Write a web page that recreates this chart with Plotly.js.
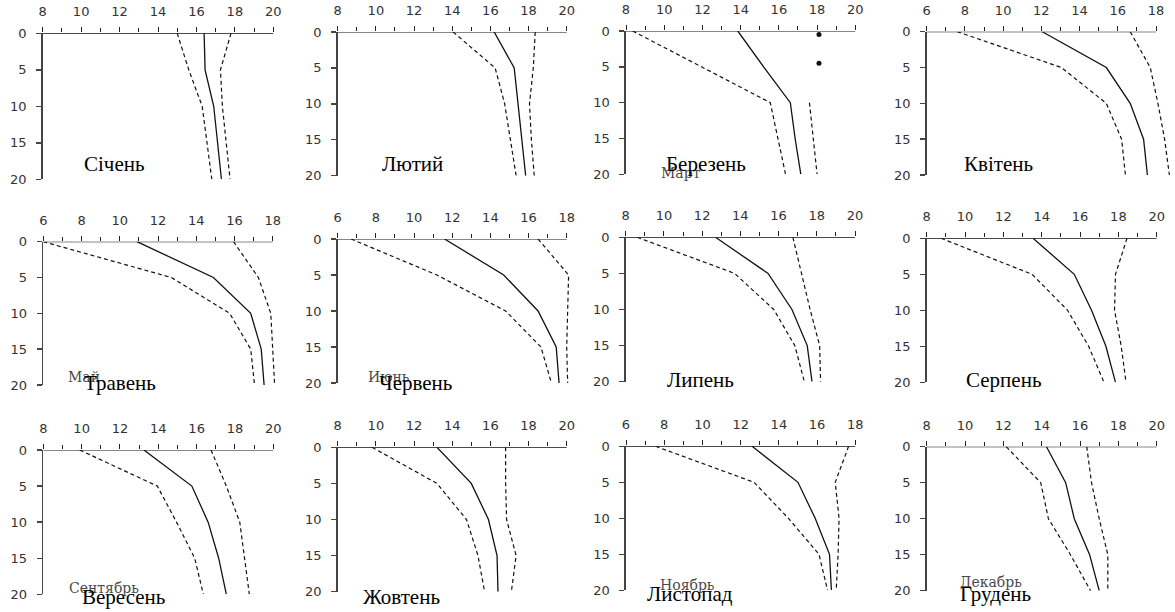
<!DOCTYPE html>
<html>
<head>
<meta charset="utf-8">
<script src="https://cdn.plot.ly/plotly-3.0.1.min.js"></script>
<style>html,body{margin:0;padding:0;background:#fff;}#chart{width:1175px;height:612px;}</style>
</head>
<body>
<div id="chart"></div>
<script>
// ---- data ----
const depths = [0, 5, 10, 15, 20];
const months = ['Січень','Лютий','Березень','Квітень','Травень','Червень','Липень','Серпень','Вересень','Жовтень','Листопад','Грудень'];
const monthsRu = ['', '', 'Март', '', 'Май', 'Июнь', '', '', 'Сентябрь', '', 'Ноябрь', 'Декабрь'];
const xTickLow  = [8, 8, 8, 6, 6, 6, 8, 8, 8, 8, 6, 8];
const xTickHigh = [20, 20, 20, 18, 18, 18, 20, 20, 20, 20, 18, 20];
const yTicks = [0, 5, 10, 15, 20];
const meanTemp = [
  [16.4, 16.45, 16.9, 17.1, 17.3],
  [16.2, 17.25, 17.45, 17.65, 17.85],
  [13.85, 15.2, 16.6, 16.85, 17.15],
  [12.05, 15.4, 16.65, 17.35, 17.55],
  [10.9, 14.9, 16.85, 17.4, 17.55],
  [11.6, 14.7, 16.5, 17.45, 17.6],
  [12.7, 15.45, 16.7, 17.5, 17.75],
  [13.55, 15.7, 16.6, 17.35, 17.85],
  [13.25, 15.75, 16.6, 17.15, 17.55],
  [13.2, 15.0, 15.9, 16.35, 16.4],
  [12.6, 15.0, 15.9, 16.65, 16.75],
  [14.25, 15.25, 15.7, 16.5, 17.0]
];
const minTemp = [
  [15.0, 15.6, 16.3, 16.55, 16.8],
  [14.05, 16.25, 16.75, 17.05, 17.35],
  [8.35, 11.95, 15.55, 15.95, 16.35],
  [7.6, 13.05, 15.4, 16.2, 16.4],
  [6.0, 12.7, 15.75, 16.85, 17.05],
  [6.7, 11.2, 14.8, 16.65, 17.2],
  [8.6, 13.7, 15.75, 16.85, 17.35],
  [8.75, 13.5, 15.35, 16.45, 17.25],
  [9.9, 13.95, 14.95, 15.9, 16.35],
  [9.8, 13.2, 14.75, 15.35, 15.7],
  [7.55, 12.7, 14.5, 16.1, 16.55],
  [12.15, 13.95, 14.35, 15.5, 16.55]
];
const maxTemp = [
  [17.8, 17.25, 17.35, 17.55, 17.75],
  [18.35, 18.25, 18.05, 18.15, 18.3],
  [null, null, 17.6, 17.8, 18.0],
  [16.65, 17.7, 18.1, 18.45, 18.7],
  [15.95, 17.25, 17.9, 18.0, 18.1],
  [16.5, 18.1, 18.05, 18.0, 18.05],
  [16.75, 17.2, 17.65, 18.15, 18.2],
  [18.45, 17.85, 17.8, 18.15, 18.4],
  [16.75, 17.55, 18.25, 18.5, 18.75],
  [16.8, 16.8, 16.85, 17.35, 17.1],
  [17.65, 16.95, 17.15, 17.1, 17.0],
  [16.35, 16.6, 17.0, 17.45, 17.45]
];
// isolated max points for March (panel 3)
const marchDotTemp = [18.1, 18.1];
const marchDotDepth = [0.5, 4.5];

// ---- layout geometry (pixels) ----
const W = 1175, H = 612;
const panelLeft   = [42.7, 337.7, 626, 926.7, 43.3, 337.7, 625.7, 926.7, 43.3, 337.7, 626, 926.7];
const panelRight  = [273.3, 566.7, 855.3, 1156, 272.7, 566.7, 855, 1156.7, 273.3, 566.7, 855.3, 1156.7];
const panelTop    = [33.3, 32, 31, 31.7, 241.7, 239, 237.3, 238.3, 450, 447.3, 446.3, 446.7];
const panelBottom = [179.3, 175.7, 174.3, 175, 385, 383, 381.7, 382.3, 594.3, 591.7, 590.3, 590.7];
const labelX  = [114, 413, 706, 998, 120, 415, 700, 1003, 123, 401, 690, 995];
const labelY  = [164, 164, 164, 164, 383, 383, 380, 380, 597, 597, 594, 594];
const ruX = [0, 0, 681, 0, 84, 389, 0, 0, 104, 0, 687, 991];
const ruY = [0, 0, 173, 0, 377, 377, 0, 0, 588, 0, 585, 582];

const traces = [];
const layout = {
  width: W, height: H,
  margin: {l: 0, r: 0, t: 0, b: 0},
  paper_bgcolor: '#ffffff', plot_bgcolor: 'rgba(0,0,0,0)',
  showlegend: false,
  shapes: [], annotations: []
};
const tickFont = {family: 'DejaVu Sans, sans-serif', size: 13, color: '#333'};
const pad = 0.9;

for (let i = 0; i < 12; i++) {
  const n = i + 1;
  const sfx = n === 1 ? '' : String(n);
  const xr = 'x' + sfx, yr = 'y' + sfx;
  const lo = xTickLow[i], hi = xTickHigh[i];
  const ppu = (panelRight[i] - panelLeft[i]) / (hi - lo);
  const evens = [];
  for (let v = lo; v <= hi; v += 2) evens.push(v);
  layout['xaxis' + sfx] = {
    domain: [panelLeft[i] / W, (panelRight[i] + pad * ppu) / W],
    range: [lo, hi + pad], side: 'top', anchor: yr,
    showline: false, showgrid: false, zeroline: false,
    ticks: 'outside', ticklen: 5, tickwidth: 1, tickcolor: '#222',
    tickmode: 'array', tickvals: evens, ticktext: evens.map(String),
    minor: {dtick: 1, tick0: lo, ticks: 'outside', ticklen: 4, tickwidth: 1, tickcolor: '#222', showgrid: false},
    tickfont: tickFont, ticklabelstandoff: 6, fixedrange: true
  };
  layout['yaxis' + sfx] = {
    domain: [1 - panelBottom[i] / H, 1 - panelTop[i] / H],
    range: [20, 0], anchor: xr,
    showline: true, linewidth: 1.6, linecolor: '#444',
    showgrid: false, zeroline: false,
    ticks: 'outside', ticklen: 5, tickwidth: 1.4, tickcolor: '#444',
    tickmode: 'array', tickvals: yTicks, ticktext: yTicks.map(String),
    tickfont: tickFont, ticklabelstandoff: 7, fixedrange: true
  };
  layout.shapes.push({type: 'line', xref: xr, yref: yr, x0: lo, x1: hi, y0: 0, y1: 0,
    line: {color: '#111', width: 1.2}, layer: 'above'});

  traces.push({x: meanTemp[i], y: depths, xaxis: xr, yaxis: yr, mode: 'lines',
    line: {color: '#111', width: 1.3}, hoverinfo: 'skip'});
  traces.push({x: minTemp[i], y: depths, xaxis: xr, yaxis: yr, mode: 'lines',
    line: {color: '#111', width: 1.2, dash: '4px,3px'}, hoverinfo: 'skip'});
  traces.push({x: maxTemp[i], y: depths, xaxis: xr, yaxis: yr, mode: 'lines', connectgaps: false,
    line: {color: '#111', width: 1.2, dash: '4px,3px'}, hoverinfo: 'skip'});
  if (i === 2) {
    traces.push({x: marchDotTemp, y: marchDotDepth, xaxis: xr, yaxis: yr, mode: 'markers',
      marker: {color: '#111', size: 5}, hoverinfo: 'skip'});
  }
  if (monthsRu[i]) {
    layout.annotations.push({text: monthsRu[i], xref: 'paper', yref: 'paper',
      x: ruX[i] / W, y: 1 - ruY[i] / H, xanchor: 'center', yanchor: 'middle', showarrow: false,
      font: {family: 'DejaVu Serif, serif', size: 14, color: '#4a4a4a'}});
  }
}
for (let i = 0; i < 12; i++) {
  layout.annotations.push({text: months[i], xref: 'paper', yref: 'paper',
    x: labelX[i] / W, y: 1 - labelY[i] / H, xanchor: 'center', yanchor: 'middle', showarrow: false,
    font: {family: 'Liberation Serif, Times New Roman, serif', size: 21, color: '#000'}});
}

Plotly.newPlot('chart', traces, layout, {staticPlot: true, displayModeBar: false});
</script>
</body>
</html>
